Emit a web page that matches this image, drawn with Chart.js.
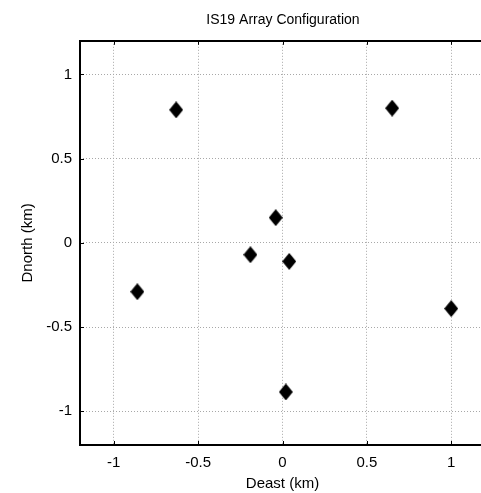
<!DOCTYPE html>
<html>
<head>
<meta charset="utf-8">
<script src="https://cdn.jsdelivr.net/npm/chart.js@4/dist/chart.umd.min.js"></script>
<style>
  html, body { margin: 0; padding: 0; background: #fff; overflow: hidden; }
  #wrap { width: 566px; height: 493px; position: relative; }
</style>
</head>
<body>
<div id="wrap"><canvas id="c" width="566" height="493"></canvas></div>
<script>
const stations = ['A1','A2','A3','A4','A5','A6','A7','A8'];
const deast  = [-0.63, 0.65, -0.04, -0.19, 0.04, -0.86, 1.00, 0.02];
const dnorth = [ 0.79, 0.80,  0.15, -0.07, -0.11, -0.29, -0.39, -0.885];
const tickValues = [-1, -0.5, 0, 0.5, 1];
const tickLabels = ['-1', '-0.5', '0', '0.5', '1'];

function diamond() {
  const c = document.createElement('canvas');
  c.width = 14; c.height = 17;
  const g = c.getContext('2d');
  g.fillStyle = '#000';
  g.beginPath();
  g.moveTo(7, 0); g.lineTo(14, 8.5); g.lineTo(7, 17); g.lineTo(0, 8.5);
  g.closePath(); g.fill();
  return c;
}

const frame = {
  id: 'frame',
  afterDraw(chart) {
    const {ctx, chartArea: a, scales: {x, y}} = chart;
    ctx.save();
    ctx.strokeStyle = '#000';
    ctx.lineWidth = 1;
    ctx.beginPath();
    tickValues.forEach(v => {
      const px = Math.round(x.getPixelForValue(v)) + 0.5;
      ctx.moveTo(px, a.top); ctx.lineTo(px, a.top + 4);
      ctx.moveTo(px, a.bottom); ctx.lineTo(px, a.bottom - 4);
      const py = Math.round(y.getPixelForValue(v)) + 0.5;
      ctx.moveTo(a.left, py); ctx.lineTo(a.left + 4, py);
      ctx.moveTo(a.right, py); ctx.lineTo(a.right - 4, py);
    });
    ctx.stroke();
    ctx.lineWidth = 2;
    ctx.strokeRect(Math.round(a.left), Math.round(a.top), Math.round(a.right - a.left), Math.round(a.bottom - a.top));
    ctx.restore();
  }
};

const font = 'Liberation Sans, Arial, sans-serif';
new Chart(document.getElementById('c'), {
  type: 'scatter',
  data: {
    labels: stations,
    datasets: [{
      data: deast.map((e, i) => ({x: e, y: dnorth[i]})),
      pointStyle: diamond(),
      pointRadius: 8,
      backgroundColor: '#000',
      borderColor: '#000'
    }]
  },
  options: {
    responsive: false,
    animation: false,
    layout: { padding: 0 },
    plugins: {
      legend: { display: false },
      tooltip: { enabled: false },
      title: {
        display: true,
        text: 'IS19 Array Configuration',
        color: '#000',
        font: { family: font, size: 14, weight: 'normal' },
        padding: { top: 12, bottom: 12 }
      }
    },
    scales: {
      x: {
        type: 'linear', min: -1.2, max: 1.2,
        afterBuildTicks: s => { s.ticks = tickValues.map(v => ({value: v})); },
        afterFit: s => { s.height = 48; },
        ticks: {
          color: '#000', font: { family: font, size: 15 }, padding: 9,
          callback: (v) => tickLabels[tickValues.indexOf(v)]
        },
        grid: { color: '#a8a8a8', lineWidth: 1, drawTicks: false },
        border: { display: false, dash: [1, 2] },
        title: { display: true, text: 'Deast (km)', color: '#000', font: { family: font, size: 15 }, padding: { top: 2, bottom: 0 } }
      },
      y: {
        type: 'linear', min: -1.2, max: 1.2,
        afterBuildTicks: s => { s.ticks = tickValues.map(v => ({value: v})); },
        afterFit: s => { s.width = 80; },
        ticks: {
          color: '#000', font: { family: font, size: 15 }, padding: 8,
          callback: (v) => tickLabels[tickValues.indexOf(v)]
        },
        grid: { color: '#a8a8a8', lineWidth: 1, drawTicks: false },
        border: { display: false, dash: [1, 2] },
        title: { display: true, text: 'Dnorth (km)', color: '#000', font: { family: font, size: 15 }, padding: { top: 19, bottom: 0 } }
      },
      y2: {
        type: 'linear', position: 'right', display: true, min: -1.2, max: 1.2,
        afterFit: s => { s.width = 81; },
        ticks: { display: false },
        grid: { display: false, drawTicks: false },
        border: { display: false }
      }
    }
  },
  plugins: [frame]
});
</script>
</body>
</html>
